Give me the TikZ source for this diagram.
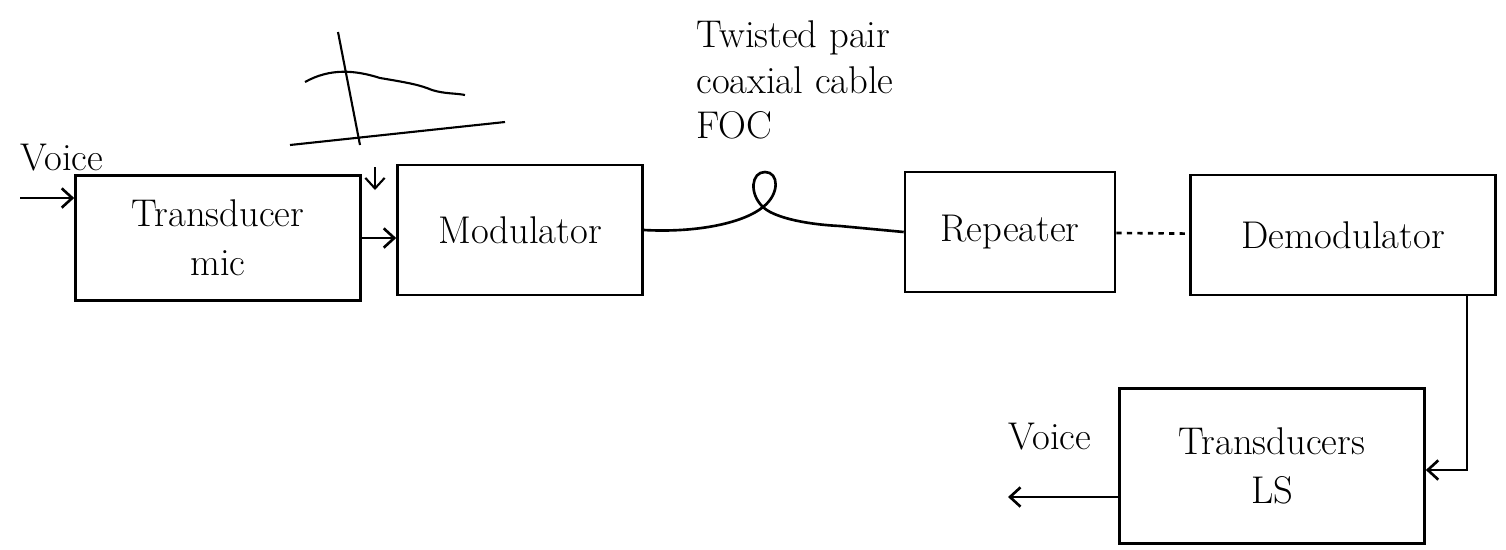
\documentclass[tikz,border=0pt]{standalone}
\usepackage{amsmath}
\usetikzlibrary{positioning,arrows.meta}

\begin{document}
\begin{tikzpicture}[x=0.02cm,y=-0.02cm,line width=1.5pt,>={Straight Barb[length=6pt,width=11pt]},
		block/.style={draw,align=center,font=\fontsize{22}{28}\selectfont},
		lbl/.style={font=\fontsize{22}{26}\selectfont}]
		\useasboundingbox (0,0) rectangle (1506,549);
		\node[block,minimum width=5.7cm,minimum height=2.5cm](mic) at (218,238) {Transducer\\mic};
		\node[block,minimum width=4.9cm,minimum height=2.6cm](mod) at (520,230) {Modulator};
		\node[block,minimum width=4.2cm,minimum height=2.4cm](rep) at (1010,232) {Repeater};
		\node[block,minimum width=6.1cm,minimum height=2.4cm](demod) at (1343,235) {Demodulator};
		\node[block,minimum width=6.1cm,minimum height=3.1cm](ls) at (1272,466) {Transducers\\LS};
		\node[lbl](vin) at (62,158) {Voice};
		\node[lbl](vout) at (1050,437) {Voice};
		\node[lbl,align=left](medium) at (795,80) {Twisted pair\\coaxial cable\\FOC};
		\coordinate (src) at (20,198);
		\coordinate (sink) at (1008,497);
		\coordinate (bend) at (1467,470);
		\coordinate (twist) at (763,207);
		% signal sketch
		\draw[line width=1.2pt] (338,32) -- (360,145);
		\draw[line width=1.2pt] (290,145) -- (505,122);
		\draw[line width=1.2pt] (305,82) .. controls (330,68) and (355,70) .. (380,78)
			.. controls (410,83) and (420,85) .. (432,90) .. controls (445,94) and (455,93) .. (465,95);
		\coordinate (hint) at (375,167);
		\coordinate (hintend) at (375,190);
		\draw[->,line width=1.2pt] (hint) -- (hintend);
		% links
		\path[->]
		(src) edge (src -| mic.west)
		(mic.east) edge (mic.east -| mod.west);
		\draw (mod.east) .. controls (700,233) and (745,222) .. (twist)
			.. controls (780,194) and (779,172) .. (765,172)
			.. controls (751,172) and (749,194) .. (twist)
			.. controls (772,216) and (800,224) .. (840,226) -- (rep.west);
		\draw[dashed] (rep) -- (demod);
		\draw[->] (demod.south -| bend) -- (bend) -- (bend -| ls.east);
		\draw[->] (ls.west |- sink) -- (sink);
\end{tikzpicture}
\end{document}
